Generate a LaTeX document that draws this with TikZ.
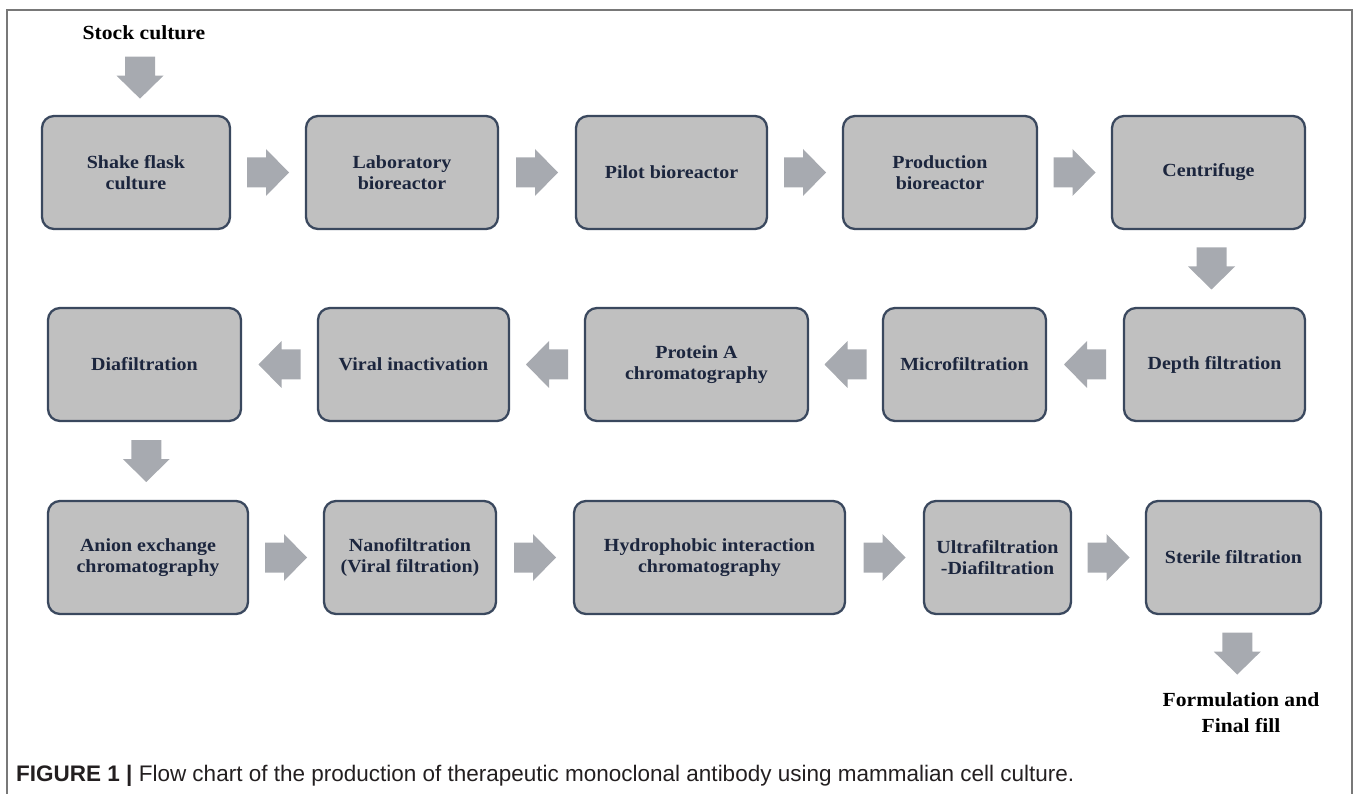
\documentclass[tikz,border=0pt]{standalone}
\usepackage{fontspec}
\setmainfont{Liberation Serif}
\newfontfamily\boxfont[FakeStretch=1.08]{Liberation Serif}
\newfontfamily\capfont{Liberation Sans}
\usetikzlibrary{calc}
\definecolor{boxfill}{RGB}{192,192,192}
\definecolor{boxline}{RGB}{58,72,94}
\definecolor{boxtext}{RGB}{28,38,62}
\definecolor{arrowgray}{RGB}{167,170,176}
\definecolor{framegray}{RGB}{120,120,120}
\definecolor{captext}{RGB}{35,31,32}
\tikzset{
  stepbox/.style={draw=boxline, line width=2.3pt, fill=boxfill, rounded corners=12pt,
    text=boxtext, font=\boxfont\bfseries\fontsize{18.5}{21.5}\selectfont, align=center,
    inner sep=0pt, minimum height=113pt},
  blacklabel/.style={text=black, font=\boxfont\bfseries\fontsize{20}{26}\selectfont, align=center, inner sep=0pt},
  blockarrow/.pic={\fill[arrowgray] (-21,-15) -- (-2,-15) -- (-2,-23.5) -- (21,0) -- (-2,23.5) -- (-2,15) -- (-21,15) -- cycle;}
}
\begin{document}
\begin{tikzpicture}[x=1pt,y=1pt]
\useasboundingbox (0,0) rectangle (1358,-794);
\draw[framegray, line width=1.2pt] (7,-800) -- (7,-10) -- (1352,-10) -- (1352,-800);

% row 1
\node[stepbox, minimum width=188pt] (b1) at (136,-172.5) {Shake flask\\culture};
\node[stepbox, minimum width=192pt] (b2) at (402,-172.5) {Laboratory\\bioreactor};
\node[stepbox, minimum width=191pt] (b3) at (671.5,-172.5) {Pilot bioreactor};
\node[stepbox, minimum width=194pt] (b4) at (940,-172.5) {Production\\bioreactor};
\node[stepbox, minimum width=193pt] (b5) at (1208.5,-172.5) {Centrifuge};
% row 2
\node[stepbox, minimum width=181pt] (r1) at (1214.5,-364.5) {Depth filtration};
\node[stepbox, minimum width=163pt] (r2) at (964.5,-364.5) {Microfiltration};
\node[stepbox, minimum width=223pt] (r3) at (696.5,-364.5) {Protein A\\chromatography};
\node[stepbox, minimum width=191pt] (r4) at (413.5,-364.5) {Viral inactivation};
\node[stepbox, minimum width=193pt] (r5) at (144.5,-364.5) {Diafiltration};
% row 3
\node[stepbox, minimum width=200pt] (s1) at (148,-557.5) {Anion exchange\\chromatography};
\node[stepbox, minimum width=172pt] (s2) at (410,-557.5) {Nanofiltration\\(Viral filtration)};
\node[stepbox, minimum width=271pt] (s3) at (709.5,-557.5) {Hydrophobic interaction\\chromatography};
\node[stepbox, minimum width=147pt] (s4) at (997.5,-557.5) {Ultrafiltration\\-Diafiltration};
\node[stepbox, minimum width=175pt] (s5) at (1233.5,-557.5) {Sterile filtration};

% labels
\node[blacklabel, anchor=base] (stock) at (144,-40) {Stock culture};
\node[blacklabel, anchor=north] (form) at (1241,-692) {Formulation and\\Final fill};

% arrows
\pic[rotate=-90] at ($(stock.south)!0.5!(b1.north)$) {blockarrow};
\pic at ($(b1.east)!0.5!(b2.west)$) {blockarrow};
\pic at ($(b2.east)!0.5!(b3.west)$) {blockarrow};
\pic at ($(b3.east)!0.5!(b4.west)$) {blockarrow};
\pic at ($(b4.east)!0.5!(b5.west)$) {blockarrow};
\pic[rotate=-90] at ($(b5.south)!0.5!(r1.north)$) {blockarrow};
\pic[rotate=180] at ($(r1.west)!0.5!(r2.east)$) {blockarrow};
\pic[rotate=180] at ($(r2.west)!0.5!(r3.east)$) {blockarrow};
\pic[rotate=180] at ($(r3.west)!0.5!(r4.east)$) {blockarrow};
\pic[rotate=180] at ($(r4.west)!0.5!(r5.east)$) {blockarrow};
\pic[rotate=-90] at ($(r5.south)!0.5!(s1.north)$) {blockarrow};
\pic at ($(s1.east)!0.5!(s2.west)$) {blockarrow};
\pic at ($(s2.east)!0.5!(s3.west)$) {blockarrow};
\pic at ($(s3.east)!0.5!(s4.west)$) {blockarrow};
\pic at ($(s4.east)!0.5!(s5.west)$) {blockarrow};
\pic[rotate=-90] at ($(s5.south)!0.5!(form.north)$) {blockarrow};

% caption
\node[anchor=base west, inner sep=0pt, text=captext, font=\capfont\fontsize{22.5}{26}\selectfont] (cap) at (16,-781)
  {\textbf{FIGURE 1 |} Flow chart of the production of therapeutic monoclonal antibody using mammalian cell culture.};
\end{tikzpicture}
\end{document}
